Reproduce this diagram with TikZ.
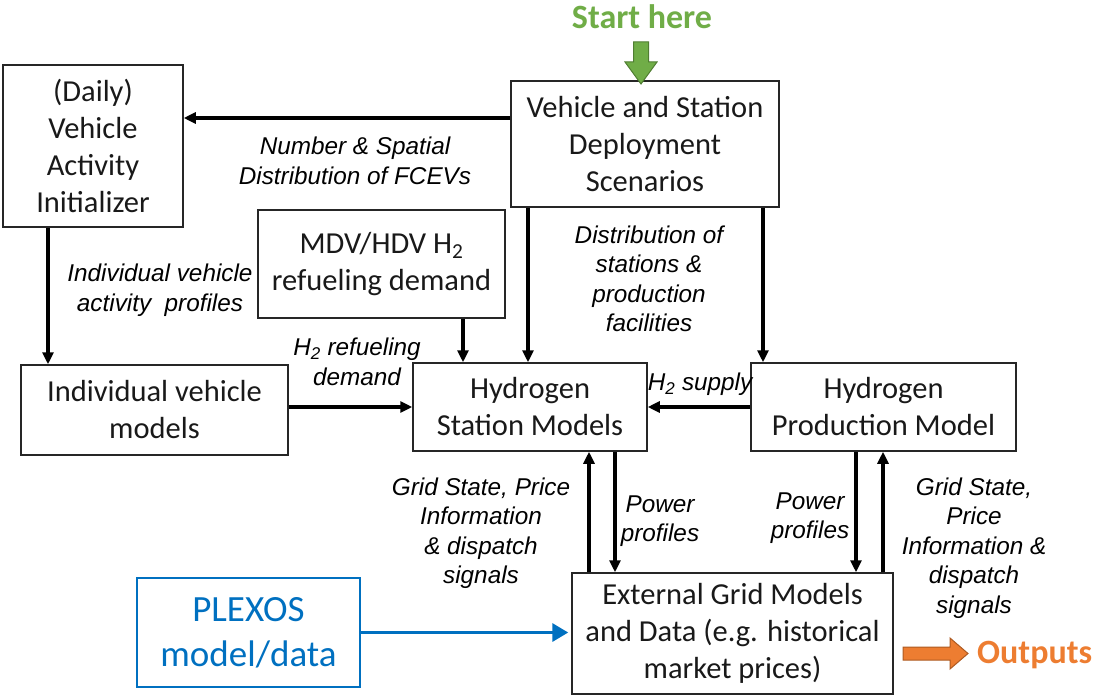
\documentclass[tikz,border=0pt]{standalone}
\usepackage{fontspec}
\setmainfont{Carlito}
\newfontfamily\labfont{Liberation Sans}
\usetikzlibrary{arrows.meta}
\definecolor{gr}{HTML}{70AD47}
\definecolor{grd}{HTML}{507E32}
\definecolor{org}{HTML}{ED7D31}
\definecolor{orgd}{HTML}{AE5A21}
\definecolor{blu}{HTML}{0070C0}
\begin{document}
\begin{tikzpicture}[x=1pt,y=-1pt,
  box/.style={draw=black!85,line width=1.5pt,align=center,inner sep=0pt,
    font=\fontsize{30.5}{37}\selectfont,text=black!90},
  lab/.style={align=center,inner sep=0pt,
    font=\labfont\itshape\fontsize{24.3}{29.5}\selectfont},
  arr/.style={line width=3.2pt,-{Triangle[length=12pt,width=11pt]}},
  bluarr/.style={draw=blu,line width=3.4pt,-{Triangle[length=16pt,width=18pt]}},
  bigtext/.style={font=\bfseries\fontsize{34}{40}\selectfont,inner sep=0pt}
]
\useasboundingbox (0,0) rectangle (1095,698);

% boxes
\node[box,minimum width=180pt,minimum height=162pt] (init) at (93,146)
  {(Daily)\\Vehicle\\Activity\\Initializer};
\node[box,minimum width=268pt,minimum height=126pt] (dep) at (645,144)
  {Vehicle and Station\\Deployment\\Scenarios};
\node[box,minimum width=247pt,minimum height=108pt] (mdv) at (381.5,264)
  {MDV/HDV H\textsubscript{2}\\refueling demand};
\node[box,minimum width=267pt,minimum height=90pt] (indiv) at (154.5,410)
  {Individual vehicle\\models};
\node[box,minimum width=234pt,minimum height=88pt] (hsm) at (530,407)
  {Hydrogen\\Station Models};
\node[box,minimum width=265pt,minimum height=88pt] (prod) at (883.5,407)
  {Hydrogen\\Production Model};
\node[box,minimum width=321pt,minimum height=121pt] (grid) at (732.5,633.5)
  {External Grid Models\\and Data (e.g. historical\\market prices)};
\node[box,draw=blu,line width=2.8pt,text=blu,minimum width=223pt,minimum height=109pt,
  font=\fontsize{37}{45}\selectfont] (plex) at (248.5,632.5)
  {PLEXOS\\model/data};

% x positions of vertical connectors
\coordinate (x48) at (48,0);
\coordinate (x463) at (463,0);
\coordinate (x528) at (528,0);
\coordinate (x763) at (763,0);
\coordinate (x589) at (589,0);
\coordinate (x615) at (615,0);
\coordinate (x856) at (856,0);
\coordinate (x883) at (883,0);

% connectors
\draw[arr] ([yshift=26pt]dep.west) -- ([yshift=28pt]init.east);
\draw[arr] (init.south -| x48) -- (indiv.north -| x48);
\draw[arr] (mdv.south -| x463) -- (hsm.north -| x463);
\draw[arr] (dep.south -| x528) -- (hsm.north -| x528);
\draw[arr] (dep.south -| x763) -- (prod.north -| x763);
\draw[arr] (indiv.east |- hsm.west) -- (hsm.west);
\draw[arr] (prod.west) -- (hsm.east);
\draw[arr] (grid.north -| x589) -- (hsm.south -| x589);
\draw[arr] (hsm.south -| x615) -- (grid.north -| x615);
\draw[arr] (prod.south -| x856) -- (grid.north -| x856);
\draw[arr] (grid.north -| x883) -- (prod.south -| x883);
\draw[bluarr] (plex.east) -- ([xshift=-3pt]plex.east -| grid.west);

% labels
\node[lab] (l1) at (355,161) {Number \& Spatial\\Distribution of FCEVs};
\node[lab] (l2) at (160,290) {Individual vehicle\\activity~~profiles};
\node[lab] (l3) at (649,279) {Distribution of\\stations \&\\production\\facilities};
\node[lab] (l4) at (357,362) {H\textsubscript{2} refueling\\demand};
\node[lab] (l5) at (700,384) {H\textsubscript{2} supply};
\node[lab] (l6) at (481,533) {Grid State, Price\\Information\\\& dispatch\\signals};
\node[lab] (l7) at (660,521) {Power\\profiles};
\node[lab] (l8) at (810,518) {Power\\profiles};
\node[lab] (l9) at (974,548) {Grid State,\\Price\\Information \&\\dispatch\\signals};

% start here
\node[bigtext,text=gr] (start) at (642,17) {Start here};
\filldraw[fill=gr,draw=grd,line width=1pt]
  (633.5,42) -- (648.5,42) -- (648.5,62) -- (657,62) -- (641,84)
  -- (625,62) -- (633.5,62) -- cycle;

% outputs
\filldraw[fill=org,draw=orgd,line width=1pt]
  (903,647) -- (950,647) -- (950,638) -- (968,653.5) -- (950,669)
  -- (950,660) -- (903,660) -- cycle;
\node[bigtext,text=org,anchor=west] (out) at (977,655) {Outputs};
\end{tikzpicture}
\end{document}
